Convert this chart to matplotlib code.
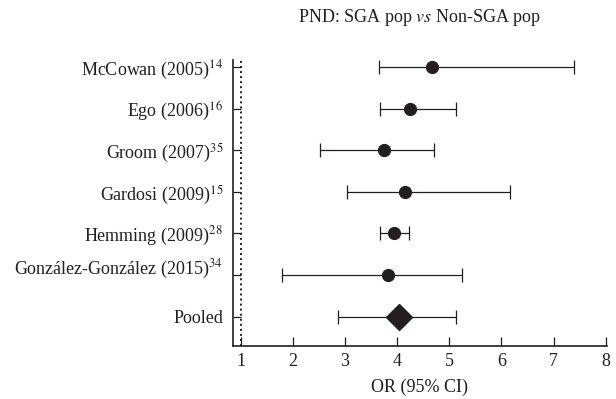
import numpy as np
import matplotlib.pyplot as plt
import matplotlib.transforms as mtransforms

plt.rcParams['font.family'] = ['Liberation Serif', 'DejaVu Serif']
plt.rcParams['mathtext.fontset'] = 'stix'

studies = [r'McCowan (2005)$^{\mathrm{14}}$', r'Ego (2006)$^{\mathrm{16}}$',
           r'Groom (2007)$^{\mathrm{35}}$', r'Gardosi (2009)$^{\mathrm{15}}$',
           r'Hemming (2009)$^{\mathrm{28}}$', r'González-González (2015)$^{\mathrm{34}}$',
           'Pooled']
odds = [4.66, 4.25, 3.75, 4.15, 3.94, 3.82, 4.03]
ci_low = [3.65, 3.67, 2.51, 3.03, 3.66, 1.78, 2.86]
ci_high = [7.39, 5.12, 4.70, 6.17, 4.22, 5.25, 5.12]
xticks = [1, 2, 3, 4, 5, 6, 7, 8]

col = '#231f20'
fig = plt.figure(figsize=(6.16, 3.99), dpi=100)
ax = fig.add_axes([0.378, 0.133, 0.607, 0.717])

ypos = np.arange(len(studies))
odds = np.array(odds)
err = [odds - np.array(ci_low), np.array(ci_high) - odds]

ax.axvline(1, color=col, ls=(0, (1, 1.6)), lw=1.4, zorder=1)
ax.errorbar(odds[:-1], ypos[:-1], xerr=[e[:-1] for e in err], fmt='o',
            color=col, ecolor=col, ms=8.5, elinewidth=0.9, capsize=5,
            capthick=0.9, zorder=3)
ax.errorbar(odds[-1:], ypos[-1:], xerr=[e[-1:] for e in err], fmt='D',
            color=col, ecolor=col, ms=13, elinewidth=0.9, capsize=5,
            capthick=0.9, zorder=3)

ax.set_xlim(0.846, 8.02)
ax.set_ylim(6.70, -0.17)
ax.set_yticks(ypos)
ax.set_yticklabels(studies, fontsize=13, color=col)
ax.set_xticks(xticks)
ax.set_xticklabels([str(t) for t in xticks], fontsize=13, color=col)
ax.tick_params(axis='y', direction='in', length=6, width=0.9, color=col, pad=7)
ax.tick_params(axis='x', direction='in', length=6.5, width=0.9, color=col, pad=5)
for s in ['top', 'right']:
    ax.spines[s].set_visible(False)
for s in ['left', 'bottom']:
    ax.spines[s].set_color(col)
    ax.spines[s].set_linewidth(1.2)

# the long label sits a bit above its row in the original
lab = ax.get_yticklabels()[5]
lab.set_transform(lab.get_transform() + mtransforms.ScaledTranslation(0, 9 / 100, fig.dpi_scale_trans))

ax.set_xlabel('OR (95% CI)', fontsize=13, labelpad=6, color=col)
ax.set_title(r'PND: SGA pop $\it{vs}$ Non-SGA pop', fontsize=13, pad=27, color=col)

fig.savefig('out.png', dpi=100)
